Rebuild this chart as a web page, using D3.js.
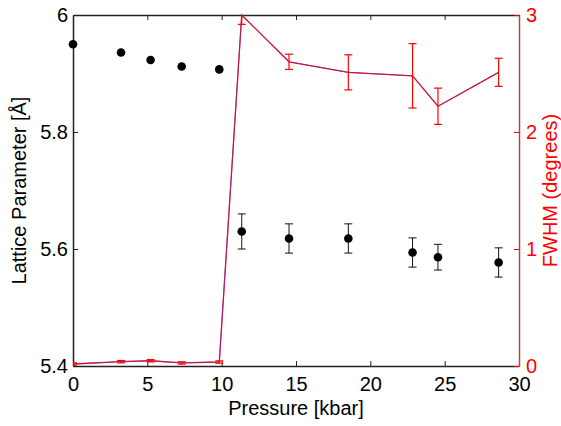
<html>
<head>
    <script src="https://d3js.org/d3.v7.min.js"></script>
    <style>
        body { margin: 0; background: #fff; }
        text { font-family: "Liberation Sans", Arial, sans-serif; }
    </style>
</head>
<body>
    <svg width="561" height="426"></svg>
    <script>
        const MARGIN = { LEFT: 73, RIGHT: 42, TOP: 15, BOTTOM: 60 }
        const WIDTH = 561 - MARGIN.LEFT - MARGIN.RIGHT
        const HEIGHT = 426 - MARGIN.TOP - MARGIN.BOTTOM

        // data
        const pressure = [0, 3.23, 5.22, 7.31, 9.84, 11.35, 14.53, 18.52, 22.84, 24.55, 28.63]
        const lattice = [5.950, 5.936, 5.923, 5.912, 5.907, 5.630, 5.618, 5.618, 5.594, 5.586, 5.577]
        const latticeErr = [0, 0, 0, 0, 0, 0.030, 0.025, 0.025, 0.025, 0.022, 0.025]
        const fwhm = [0.017, 0.037, 0.045, 0.026, 0.034, 3.0, 2.60, 2.51, 2.48, 2.22, 2.51]
        const fwhmErr = [0.01, 0.01, 0.01, 0.01, 0.01, 0.08, 0.065, 0.15, 0.275, 0.155, 0.12]
        const xTicks = [0, 5, 10, 15, 20, 25, 30]
        const yTicks = [5.4, 5.6, 5.8, 6]
        const y2Ticks = [0, 1, 2, 3]

        const FONT = "20px"

        const svg = d3.select("svg")
        const g = svg.append("g")
            .attr("transform", `translate(${MARGIN.LEFT}, ${MARGIN.TOP})`)

        const x = d3.scaleLinear().domain([0, 30]).range([0, WIDTH])
        const y = d3.scaleLinear().domain([5.4, 6]).range([HEIGHT, 0])
        const y2 = d3.scaleLinear().domain([0, 3]).range([HEIGHT, 0])

        g.append("clipPath").attr("id", "clip")
            .append("rect").attr("width", WIDTH).attr("height", HEIGHT)

        // axes (ticks inside)
        const xb = g.append("g").attr("transform", `translate(0, ${HEIGHT})`)
            .call(d3.axisBottom(x).tickValues(xTicks).tickSize(-5).tickPadding(11).tickSizeOuter(0))
        const xt = g.append("g")
            .call(d3.axisTop(x).tickValues(xTicks).tickSize(-5).tickFormat("").tickSizeOuter(0))
        const yl = g.append("g")
            .call(d3.axisLeft(y).tickValues(yTicks).tickSize(-5).tickPadding(5).tickSizeOuter(0).tickFormat(d3.format("")))
        const yr = g.append("g").attr("transform", `translate(${WIDTH}, 0)`)
            .call(d3.axisRight(y2).tickValues(y2Ticks).tickSize(-5).tickPadding(7).tickSizeOuter(0).tickFormat(d3.format("d")))

        ;[xb, xt, yl].forEach(a => {
            a.select(".domain").attr("stroke", "#222").attr("stroke-width", 1.5)
            a.selectAll("line").attr("stroke", "#222")
            a.selectAll("text").attr("font-size", FONT).attr("fill", "#000")
        })
        yr.select(".domain").attr("stroke", "#b04848").attr("stroke-width", 1.5)
        yr.selectAll("line").attr("stroke", "#e00")
        yr.selectAll("text").attr("font-size", FONT).attr("fill", "#f00")

        // FWHM line: red with a translucent blue pass on top (purple look)
        const line = d3.line().x((d, i) => x(pressure[i])).y(d => y2(d))
        g.append("path").datum(fwhm)
            .attr("d", line).attr("fill", "none")
            .attr("stroke", "#ff0000").attr("stroke-width", 1.3)
        g.append("path").datum(fwhm)
            .attr("d", line).attr("fill", "none")
            .attr("stroke", "#5a3cc8").attr("stroke-width", 1).attr("opacity", 0.6)

        // FWHM error bars
        const eb = g.append("g").attr("clip-path", "url(#clip)")
            .attr("stroke", "#ff0000").attr("stroke-width", 1.2)
        fwhm.forEach((v, i) => {
            const cx = x(pressure[i])
            const t = y2(v + fwhmErr[i]), b = y2(v - fwhmErr[i])
            eb.append("line").attr("x1", cx).attr("x2", cx).attr("y1", t).attr("y2", b)
            eb.append("line").attr("x1", cx - 4).attr("x2", cx + 4).attr("y1", t).attr("y2", t)
            eb.append("line").attr("x1", cx - 4).attr("x2", cx + 4).attr("y1", b).attr("y2", b)
        })

        // lattice error bars
        const lb = g.append("g").attr("stroke", "#111").attr("stroke-width", 1)
        lattice.forEach((v, i) => {
            if (!latticeErr[i]) return
            const cx = x(pressure[i])
            const t = y(v + latticeErr[i]), b = y(v - latticeErr[i])
            lb.append("line").attr("x1", cx).attr("x2", cx).attr("y1", t).attr("y2", b)
            lb.append("line").attr("x1", cx - 4).attr("x2", cx + 4).attr("y1", t).attr("y2", t)
            lb.append("line").attr("x1", cx - 4).attr("x2", cx + 4).attr("y1", b).attr("y2", b)
        })

        g.selectAll("circle.pt").data(lattice).enter().append("circle")
            .attr("class", "pt")
            .attr("cx", (d, i) => x(pressure[i]))
            .attr("cy", d => y(d))
            .attr("r", 4.3)
            .attr("fill", "#000")

        // labels
        g.append("text")
            .attr("x", WIDTH / 2).attr("y", HEIGHT + 49)
            .attr("font-size", FONT).attr("text-anchor", "middle")
            .text("Pressure [kbar]")

        g.append("text")
            .attr("transform", `translate(-47, ${HEIGHT / 2}) rotate(-90)`)
            .attr("font-size", FONT).attr("text-anchor", "middle")
            .text("Lattice Parameter [Å]")

        g.append("text")
            .attr("transform", `translate(${WIDTH + 38}, ${HEIGHT / 2}) rotate(-90)`)
            .attr("font-size", FONT).attr("text-anchor", "middle")
            .attr("fill", "#f00")
            .text("FWHM (degrees)")
    </script>
</body>
</html>
